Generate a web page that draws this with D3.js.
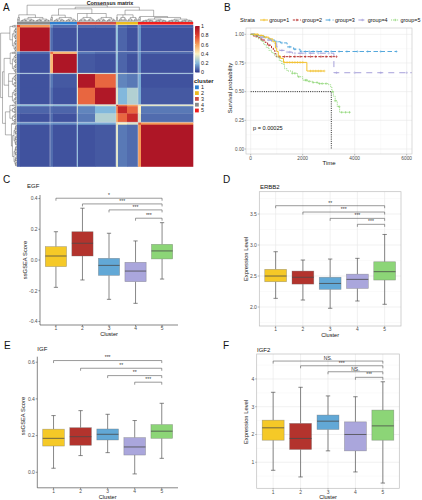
<!DOCTYPE html>
<html><head><meta charset="utf-8">
<script src="https://cdn.jsdelivr.net/npm/d3@7"></script>
<style>body{margin:0;background:#fff}svg{display:block;font-family:"Liberation Sans",Arial,sans-serif}</style>
</head><body><svg id="c" width="422" height="500"></svg>
<script>
// ================= DATA =================
// Panel A: consensus matrix (segments in display order)
const segSizes   = [3,30,3,24,1,17,21,2,9,11,3,52];
const segBlock   = [0,0,1,1,2,2,2,3,3,3,4,4];
const blockCluster = [4,1,3,2,5];
const clusterColors = ["#2f7fd0","#ecbb1e","#cf4f45","#8a8a8a","#f01e1e"];
const consensus = [
 [0.75,0.62,0.15,0.08,0.25,0.08,0.08,0.25,0.08,0.06,0.15,0.06],
 [0.62,0.97,0.08,0.04,0.22,0.04,0.04,0.22,0.07,0.04,0.14,0.04],
 [0.15,0.08,0.70,0.55,0.25,0.10,0.08,0.25,0.08,0.08,0.15,0.08],
 [0.08,0.04,0.55,0.97,0.22,0.05,0.04,0.22,0.07,0.04,0.14,0.04],
 [0.25,0.22,0.25,0.22,0.45,0.40,0.38,0.36,0.30,0.25,0.30,0.20],
 [0.08,0.04,0.10,0.05,0.40,0.96,0.72,0.30,0.12,0.10,0.18,0.04],
 [0.08,0.04,0.08,0.04,0.38,0.72,0.96,0.36,0.20,0.28,0.18,0.05],
 [0.25,0.22,0.25,0.22,0.36,0.30,0.36,0.85,0.68,0.60,0.45,0.36],
 [0.08,0.07,0.08,0.07,0.30,0.12,0.20,0.68,0.90,0.72,0.40,0.10],
 [0.06,0.04,0.08,0.04,0.25,0.10,0.28,0.60,0.72,0.88,0.35,0.08],
 [0.15,0.14,0.15,0.14,0.30,0.18,0.18,0.45,0.40,0.35,0.75,0.62],
 [0.06,0.04,0.08,0.04,0.20,0.04,0.05,0.36,0.10,0.08,0.62,0.97]
];
const blockTopH = [0.42,0.40,0.50,0.42,0.32];
const blockMerges = [[-2,-3,0.78],[-4,-5,0.70],[1,2,0.88],[-1,3,1.0]];
const heatStops = [0,0.2,0.4,0.6,0.8,1];
const heatColors = ["#30398f","#82b8dc","#fbf3c2","#f8a35c","#de3d2d","#a50f25"];
const heatTickLabels = ["0","0.2","0.4","0.6","0.8","1"];

// Panel B: Kaplan-Meier
const kmGroups = ["group=1","group=2","group=3","group=4","group=5"];
const kmColors = ["#f2c12e","#b8302f","#55a8dc","#a7a1da","#86d36c"];
const kmTimes = [
 [0,300,500,700,850,950,1000,1060,1150,1260,2160],
 [0,100,250,400,550,650,800,870,930,980],
 [0,150,350,550,750,930,1150,1400,1650,1900],
 [0,200,400,600,800,1000,1100,1300,1600,3200],
 [0,100,200,300,400,500,600,700,800,900,1000,1100,1200,1300,1400,1600,1800,2000,2200,2400,2600,3000,3080,3120,3180,3250,3330,3420]
];
const kmSurv = [
 [1,0.99,0.975,0.96,0.935,0.88,0.85,0.81,0.79,0.755,0.68],
 [1,0.985,0.97,0.95,0.93,0.905,0.88,0.86,0.83,0.805],
 [1,0.99,0.98,0.965,0.95,0.935,0.925,0.89,0.87,0.85],
 [1,0.985,0.97,0.95,0.92,0.89,0.86,0.845,0.835,0.665],
 [1,0.99,0.975,0.96,0.94,0.91,0.885,0.86,0.84,0.82,0.80,0.77,0.74,0.70,0.68,0.66,0.63,0.60,0.59,0.58,0.57,0.56,0.54,0.50,0.46,0.42,0.37,0.32]
];
const kmEnd = [2830,3300,5620,6200,3850];
const kmCensor = [
 [150,250,400,600,1300,1400,1500,1600,1700,1800,1900,2000,2300,2400,2500,2600,2700,2830],
 [200,450,700,1100,1300,1500,1700,1900,2100,2300,2500,2700,2900,3100,3300],
 [100,300,500,800,1000,1200,1500,1700,1950,2100,2250,2400,2550,2700,2900,3100,3400,3700,4100,4500,5000,5600],
 [400,700,1000,1200,1400,1500,1700,1900,2100,2300,2600,3000,3300,4000,5000,6000],
 [1600,1700,1850,2100,2150,2250,2400,2550,2650,2750,2900,3150,3250,3400,3500,3650,3800]
];
const kmMedianTime = 3100;
const kmXTicks = [0,2000,4000,6000];
const kmYTicks = [0,0.25,0.5,0.75,1];
const kmYTickLabels = ["0.00","0.25","0.50","0.75","1.00"];
const kmPText = "p = 0.00025";

// Panels C-F: boxplots [lowWhisker, Q1, median, Q3, highWhisker]
const clusters = ["1","2","3","4","5"];
const boxColors = ["#f5c927","#b3332d","#62a8d6","#aaa6dc","#8cd577"];
const egfStats = [[-0.178,-0.043,0.026,0.087,0.184],[-0.13,0.026,0.109,0.184,0.337],[-0.256,-0.10,-0.035,0.011,0.174],[-0.282,-0.141,-0.072,-0.015,0.124],[-0.124,0.007,0.059,0.102,0.243]];
const erbb2Stats = [[2.14,2.408,2.5,2.608,2.892],[2.113,2.37,2.48,2.58,2.758],[1.98,2.285,2.38,2.48,2.774],[2.097,2.30,2.446,2.53,2.785],[2.044,2.435,2.57,2.73,3.17]];
const igfStats = [[0.022,0.143,0.185,0.235,0.309],[0.091,0.147,0.194,0.243,0.336],[0.107,0.176,0.207,0.236,0.316],[-0.009,0.094,0.138,0.189,0.282],[0.076,0.185,0.224,0.26,0.376]];
const igf2Stats = [[0.71,1.794,2.24,2.516,3.52],[0.47,1.46,1.856,2.40,3.70],[1.41,2.18,2.48,2.70,3.39],[0.65,1.41,2.0,2.455,3.36],[0.25,1.794,2.31,2.88,3.90]];
const bracketFrom = [1,2,3,4]; // each compared against cluster 5
const egfBracketY = [0.402,0.365,0.326,0.272];
const egfBracketLab = ["*","***","***","***"];
const erbb2BracketY = [3.634,3.532,3.43,3.334];
const erbb2BracketLab = ["**","***","***","***"];
const igfBracketY = [0.609,0.567,0.527,0.491];
const igfBracketLab = ["***","**","**","***"];
const igf2BracketY = [4.646,4.476,4.26,4.06];
const igf2BracketLab = ["NS.","***","NS.","***"];
const egfTicks = [-0.4,-0.2,0,0.2,0.4], egfTickLab = ["-0.4","-0.2","0.0","0.2","0.4"];
const erbb2Ticks = [2.0,2.5,3.0,3.5], erbb2TickLab = ["2.0","2.5","3.0","3.5"];
const igfTicks = [0,0.2,0.4,0.6], igfTickLab = ["0.0","0.2","0.4","0.6"];
const igf2Ticks = [1,2,3,4], igf2TickLab = ["1","2","3","4"];

// ================= DRAW =================
const svg = d3.select("#c");
const txtCol = "#4d4d4d";

// Panel letters
const letters = ["A","B","C","D","E","F"];
const letterPos = [[3,10.5],[224,10.5],[3,183],[223,183],[4,348.5],[223,348.5]];
svg.selectAll("text.letter").data(letters).join("text").attr("class","letter")
  .attr("x",(d,i)=>letterPos[i][0]).attr("y",(d,i)=>letterPos[i][1])
  .attr("font-size",10).attr("fill","#111").text(d=>d);

// ---------- Panel A ----------
const nS = d3.sum(segSizes);
const segStart = [0].concat(Array.from(d3.cumsum(segSizes))).slice(0,-1);
const hx = d3.scaleLinear([0,nS],[17,193]);
const hy = d3.scaleLinear([0,nS],[25,166.5]);
const heatColor = d3.scaleLinear(heatStops, heatColors).clamp(true);
const gA = svg.append("g");
const cells = [];
consensus.forEach((row,i)=>row.forEach((v,j)=>cells.push({i,j,v})));
gA.selectAll("rect.cell").data(cells).join("rect").attr("class","cell")
  .attr("x",d=>hx(segStart[d.j])).attr("y",d=>hy(segStart[d.i]))
  .attr("width",d=>hx(segStart[d.j]+segSizes[d.j])-hx(segStart[d.j])+0.3)
  .attr("height",d=>hy(segStart[d.i]+segSizes[d.i])-hy(segStart[d.i])+0.3)
  .attr("fill",d=>heatColor(d.v));
// block separators
const blockStarts = segStart.filter((s,k)=>k>0 && segBlock[k]!==segBlock[k-1]);
gA.selectAll("line.vsep").data(blockStarts).join("line")
  .attr("x1",d=>hx(d)).attr("x2",d=>hx(d)).attr("y1",hy(0)).attr("y2",hy(nS))
  .attr("stroke","#d8dcea").attr("stroke-width",0.6).attr("opacity",0.8);
gA.selectAll("line.hsep").data(blockStarts).join("line")
  .attr("y1",d=>hy(d)).attr("y2",d=>hy(d)).attr("x1",hx(0)).attr("x2",hx(nS))
  .attr("stroke","#d8dcea").attr("stroke-width",0.6).attr("opacity",0.8);
// annotation bar
gA.selectAll("rect.ann").data(segSizes).join("rect")
  .attr("x",(d,k)=>hx(segStart[k])).attr("width",(d,k)=>hx(segStart[k]+d)-hx(segStart[k])+0.2)
  .attr("y",22).attr("height",2.6)
  .attr("fill",(d,k)=>clusterColors[blockCluster[segBlock[k]]-1]);

// dendrogram
function comb(n,h){ if(n===1) return {h:0}; const a=Math.ceil(n/2); return {h, children:[comb(a,h*0.62),comb(n-a,h*0.62)]}; }
function blockNode(b){
  const subs = segSizes.map((s,k)=>[s,k]).filter(d=>segBlock[d[1]]===b).map(d=>comb(d[0],0.26));
  return {h:blockTopH[b], children:subs};
}
const mnodes=[];
blockMerges.forEach(([a,b,h])=>{ const get=v=>v<0?blockNode(-v-1):mnodes[v-1]; mnodes.push({h,children:[get(a),get(b)]}); });
const troot = d3.hierarchy(mnodes[mnodes.length-1]);
troot.leaves().forEach((l,i)=>l.pos=i+0.5);
troot.eachAfter(n=>{ if(n.children) n.pos=(n.children[0].pos+n.children[n.children.length-1].pos)/2; });
const th = d3.scaleLinear([0,1],[21.8,5.2]);
const lh = d3.scaleLinear([0,1],[16.6,0.6]);
let pTop="", pLeft="";
troot.each(n=>{
  if(!n.children) return;
  const f=n.children[0], l=n.children[n.children.length-1];
  pTop += `M${hx(f.pos)},${th(n.data.h)}H${hx(l.pos)}`;
  pLeft += `M${lh(n.data.h)},${hy(f.pos)}V${hy(l.pos)}`;
  n.children.forEach(c=>{
    pTop += `M${hx(c.pos)},${th(n.data.h)}V${th(c.data.h)}`;
    pLeft += `M${lh(n.data.h)},${hy(c.pos)}H${lh(c.data.h)}`;
  });
});
gA.append("path").attr("d",pTop).attr("fill","none").attr("stroke","#444").attr("stroke-width",0.4);
gA.append("path").attr("d",pLeft).attr("fill","none").attr("stroke","#444").attr("stroke-width",0.4);
gA.append("text").attr("x",110).attr("y",4.8).attr("text-anchor","middle").attr("font-size",5.4).attr("font-weight","bold").attr("fill","#222").text("Consensus matrix");

// color legend
const defs = svg.append("defs");
const grad = defs.append("linearGradient").attr("id","hg").attr("x1",0).attr("y1",1).attr("x2",0).attr("y2",0);
grad.selectAll("stop").data(heatStops).join("stop").attr("offset",d=>d).attr("stop-color",d=>heatColor(d));
const ly = d3.scaleLinear([0,1],[72.5,26]);
gA.append("rect").attr("x",195).attr("y",ly(1)).attr("width",4.6).attr("height",ly(0)-ly(1)).attr("fill","url(#hg)");
gA.selectAll("text.hl").data(heatStops).join("text").attr("class","hl")
  .attr("x",201).attr("y",d=>ly(d)+1.9).attr("font-size",5.4).attr("fill","#222").text((d,i)=>heatTickLabels[i]);
gA.selectAll("line.ht").data(heatStops).join("line")
  .attr("x1",195).attr("x2",196).attr("y1",d=>ly(d)).attr("y2",d=>ly(d)).attr("stroke","#fff").attr("stroke-width",0.4);
gA.append("text").attr("x",194).attr("y",82.5).attr("font-size",6).attr("font-weight","bold").attr("fill","#222").text("cluster");
gA.selectAll("rect.cl").data(clusters).join("rect").attr("x",195).attr("y",(d,i)=>85.4+i*5.8).attr("width",3.8).attr("height",3.8).attr("fill",(d,i)=>clusterColors[i]);
gA.selectAll("text.cl").data(clusters).join("text").attr("x",201).attr("y",(d,i)=>89.1+i*5.8).attr("font-size",5.4).attr("fill","#222").text(d=>d);

// ---------- Panel B ----------
const gB = svg.append("g");
const kx = d3.scaleLinear([0,6000],[250.7,406.7]);
const ky = d3.scaleLinear([0,1],[149,34.3]);
const bx0=246,bx1=412,by0=28,by1=154;
gB.append("rect").attr("x",bx0).attr("y",by0).attr("width",bx1-bx0).attr("height",by1-by0).attr("fill","#fff");
const kxMinor=[1000,3000,5000], kyMinor=[0.125,0.375,0.625,0.875];
gB.selectAll("line.gxm").data(kxMinor).join("line").attr("x1",d=>kx(d)).attr("x2",d=>kx(d)).attr("y1",by0).attr("y2",by1).attr("stroke","#f3f3f3").attr("stroke-width",0.4);
gB.selectAll("line.gym").data(kyMinor).join("line").attr("y1",d=>ky(d)).attr("y2",d=>ky(d)).attr("x1",bx0).attr("x2",bx1).attr("stroke","#f3f3f3").attr("stroke-width",0.4);
gB.selectAll("line.gx").data(kmXTicks).join("line").attr("x1",d=>kx(d)).attr("x2",d=>kx(d)).attr("y1",by0).attr("y2",by1).attr("stroke","#e8e8e8").attr("stroke-width",0.6);
gB.selectAll("line.gy").data(kmYTicks).join("line").attr("y1",d=>ky(d)).attr("y2",d=>ky(d)).attr("x1",bx0).attr("x2",bx1).attr("stroke","#e8e8e8").attr("stroke-width",0.6);
defs.append("clipPath").attr("id","kmclip").append("rect").attr("x",bx0).attr("y",by0).attr("width",bx1-bx0).attr("height",by1-by0);
const kmDash = [null,"2.2,1.4","4.5,2.5","6,5","0.9,1.1"];
const gKM = gB.append("g").attr("clip-path","url(#kmclip)");
gKM.append("path").attr("d",`M${kx(0)},${ky(0.5)}H${kx(kmMedianTime)}V${ky(0)}`).attr("fill","none").attr("stroke","#111").attr("stroke-width",0.9).attr("stroke-dasharray","1,1.2");
const kmLine = d3.line().x(d=>kx(d[0])).y(d=>ky(d[1])).curve(d3.curveStepAfter);
[2,3,1,0,4].forEach(g=>{
  const pts = kmTimes[g].map((t,i)=>[t,kmSurv[g][i]]);
  pts.push([kmEnd[g], kmSurv[g][kmSurv[g].length-1]]);
  gKM.append("path").attr("d",kmLine(pts)).attr("fill","none").attr("stroke",kmColors[g]).attr("stroke-width",1)
    .attr("stroke-dasharray",kmDash[g]);
  let cp="";
  kmCensor[g].forEach(t=>{
    const idx = d3.bisectRight(kmTimes[g],t)-1;
    const x=kx(t), y=ky(kmSurv[g][idx]);
    cp += `M${x-1.3},${y}H${x+1.3}M${x},${y-1.3}V${y+1.3}`;
  });
  gKM.append("path").attr("d",cp).attr("stroke",kmColors[g]).attr("stroke-width",0.5).attr("fill","none");
});
gB.append("rect").attr("x",bx0).attr("y",by0).attr("width",bx1-bx0).attr("height",by1-by0).attr("fill","none").attr("stroke","#c4c4c4").attr("stroke-width",0.6);
gB.selectAll("line.kxt").data(kmXTicks).join("line").attr("x1",d=>kx(d)).attr("x2",d=>kx(d)).attr("y1",by1).attr("y2",by1+1.5).attr("stroke","#666").attr("stroke-width",0.4);
gB.selectAll("text.kxt").data(kmXTicks).join("text").attr("x",d=>kx(d)).attr("y",159.5).attr("text-anchor","middle").attr("font-size",4.8).attr("fill",txtCol).text(d=>d);
gB.selectAll("line.kyt").data(kmYTicks).join("line").attr("x1",bx0-1.5).attr("x2",bx0).attr("y1",d=>ky(d)).attr("y2",d=>ky(d)).attr("stroke","#666").attr("stroke-width",0.4);
gB.selectAll("text.kyt").data(kmYTicks).join("text").attr("x",bx0-2).attr("y",d=>ky(d)+1.6).attr("text-anchor","end").attr("font-size",4.6).attr("fill",txtCol).text((d,i)=>kmYTickLabels[i]);
gB.append("text").attr("x",329).attr("y",165).attr("text-anchor","middle").attr("font-size",6).attr("fill","#111").text("Time");
gB.append("text").attr("transform","translate(232,88) rotate(-90)").attr("text-anchor","middle").attr("font-size",6).attr("fill","#111").text("Survival probability");
gB.append("text").attr("x",253).attr("y",129.5).attr("font-size",5.6).attr("fill","#111").text(kmPText);
gB.append("text").attr("x",240).attr("y",22).attr("font-size",5.6).attr("fill","#111").text("Strata");
kmGroups.forEach((gname,i)=>{
  const kx0 = 260 + i*32.8;
  gB.append("line").attr("x1",kx0).attr("x2",kx0+8).attr("y1",20).attr("y2",20).attr("stroke",kmColors[i]).attr("stroke-width",1).attr("stroke-dasharray",kmDash[i]);
  gB.append("path").attr("d",`M${kx0+2.7},20H${kx0+5.3}M${kx0+4},18.7V21.3`).attr("stroke",kmColors[i]).attr("stroke-width",0.5);
  gB.append("text").attr("x",kx0+9.3).attr("y",22).attr("font-size",5.4).attr("fill","#111").text(gname);
});

// ---------- Box panels ----------
function boxPanel(o){
  const g = svg.append("g");
  const xb = d3.scaleBand(clusters,o.xr).paddingInner(0.2).paddingOuter(0.2);
  const y = d3.scaleLinear(o.yd,o.yr);
  const bw = xb.bandwidth();
  const cx = c=>xb(c)+bw/2;
  const [x0,x1]=o.xr, [yb,yt]=o.yr;
  if(o.bw){
    g.append("rect").attr("x",x0).attr("y",yt).attr("width",x1-x0).attr("height",yb-yt).attr("fill","#fff");
    const step = o.ticks[1]-o.ticks[0];
    const minors = d3.range(o.ticks[0]-step/2, o.yd[1], step).filter(v=>v>o.yd[0]&&v<o.yd[1]);
    g.selectAll("line.mi").data(minors).join("line").attr("x1",x0).attr("x2",x1).attr("y1",d=>y(d)).attr("y2",d=>y(d)).attr("stroke","#f2f2f2").attr("stroke-width",0.4);
    g.selectAll("line.ma").data(o.ticks).join("line").attr("x1",x0).attr("x2",x1).attr("y1",d=>y(d)).attr("y2",d=>y(d)).attr("stroke","#e6e6e6").attr("stroke-width",0.6);
    g.selectAll("line.vx").data(clusters).join("line").attr("x1",d=>cx(d)).attr("x2",d=>cx(d)).attr("y1",yt).attr("y2",yb).attr("stroke","#e6e6e6").attr("stroke-width",0.6);
  }
  o.stats.forEach((s,i)=>{
    const c=clusters[i], x=cx(c);
    g.append("path").attr("d",`M${x},${y(s[4])}V${y(s[3])}M${x},${y(s[1])}V${y(s[0])}M${x-bw*0.1},${y(s[4])}H${x+bw*0.1}M${x-bw*0.1},${y(s[0])}H${x+bw*0.1}`)
      .attr("stroke","#555").attr("stroke-width",0.7).attr("fill","none");
    g.append("rect").attr("x",xb(c)).attr("width",bw).attr("y",y(s[3])).attr("height",y(s[1])-y(s[3]))
      .attr("fill",boxColors[i]).attr("stroke","rgba(110,110,110,0.55)").attr("stroke-width",0.6);
    g.append("line").attr("x1",xb(c)).attr("x2",xb(c)+bw).attr("y1",y(s[2])).attr("y2",y(s[2])).attr("stroke","#4a4a4a").attr("stroke-width",0.8);
  });
  bracketFrom.forEach((f,i)=>{
    const xa=cx(clusters[f-1]), xe=cx("5"), yy=y(o.by[i]);
    g.append("path").attr("d",`M${xa},${yy+2.5}V${yy}H${xe}V${yy+2.5}`).attr("fill","none").attr("stroke","#555").attr("stroke-width",0.6);
    g.append("text").attr("x",(xa+xe)/2).attr("y",yy-1.2).attr("text-anchor","middle").attr("font-size",5).attr("fill","#333").text(o.bl[i]);
  });
  if(o.bw){
    g.append("rect").attr("x",x0).attr("y",yt).attr("width",x1-x0).attr("height",yb-yt).attr("fill","none").attr("stroke","#bdbdbd").attr("stroke-width",0.7);
  } else {
    g.append("path").attr("d",`M${x0},${yt}V${yb}H${x1}`).attr("fill","none").attr("stroke","#333").attr("stroke-width",0.6);
  }
  const tc = o.bw?"#777":"#333";
  g.selectAll("line.yt").data(o.ticks).join("line").attr("x1",x0-1.6).attr("x2",x0).attr("y1",d=>y(d)).attr("y2",d=>y(d)).attr("stroke",tc).attr("stroke-width",0.5);
  g.selectAll("text.yt").data(o.ticks).join("text").attr("x",x0-2.4).attr("y",d=>y(d)+1.8).attr("text-anchor","end").attr("font-size",5).attr("fill",txtCol).text((d,i)=>o.tl[i]);
  g.selectAll("line.xt").data(clusters).join("line").attr("x1",d=>cx(d)).attr("x2",d=>cx(d)).attr("y1",yb).attr("y2",yb+1.4).attr("stroke",tc).attr("stroke-width",0.5);
  g.selectAll("text.xt").data(clusters).join("text").attr("x",d=>cx(d)).attr("y",yb+5.4).attr("text-anchor","middle").attr("font-size",4.9).attr("fill",txtCol).text(d=>d);
  g.append("text").attr("x",o.title[1]).attr("y",o.title[2]).attr("font-size",6).attr("fill","#111").text(o.title[0]);
  g.append("text").attr("transform",`translate(${o.ylab[1]},${o.ylab[2]}) rotate(-90)`).attr("text-anchor","middle").attr("font-size",5.8).attr("fill","#111").text(o.ylab[0]);
  g.append("text").attr("x",cx("3")).attr("y",yb+11).attr("text-anchor","middle").attr("font-size",5.6).attr("fill","#111").text("Cluster");
}
boxPanel({stats:egfStats,xr:[40,178],yd:[-0.423,0.423],yr:[325,195],bw:false,ticks:egfTicks,tl:egfTickLab,by:egfBracketY,bl:egfBracketLab,title:["EGF",27,188],ylab:["ssGSEA Score",27,260]});
boxPanel({stats:erbb2Stats,xr:[259.3,401],yd:[1.694,3.86],yr:[326,191.7],bw:true,ticks:erbb2Ticks,tl:erbb2TickLab,by:erbb2BracketY,bl:erbb2BracketLab,title:["ERBB2",260,188.5],ylab:["Expression Level",248,259]});
boxPanel({stats:igfStats,xr:[37.3,178],yd:[-0.0846,0.63],yr:[487.8,356.7],bw:false,ticks:igfTicks,tl:igfTickLab,by:igfBracketY,bl:igfBracketLab,title:["IGF",37.3,351],ylab:["ssGSEA Score",25,416]});
boxPanel({stats:igf2Stats,xr:[256.7,399.3],yd:[0.061,4.90],yr:[488.3,354],bw:true,ticks:igf2Ticks,tl:igf2TickLab,by:igf2BracketY,bl:igf2BracketLab,title:["IGF2",257,351.5],ylab:["Expression Level",248,422]});
</script></body></html>
